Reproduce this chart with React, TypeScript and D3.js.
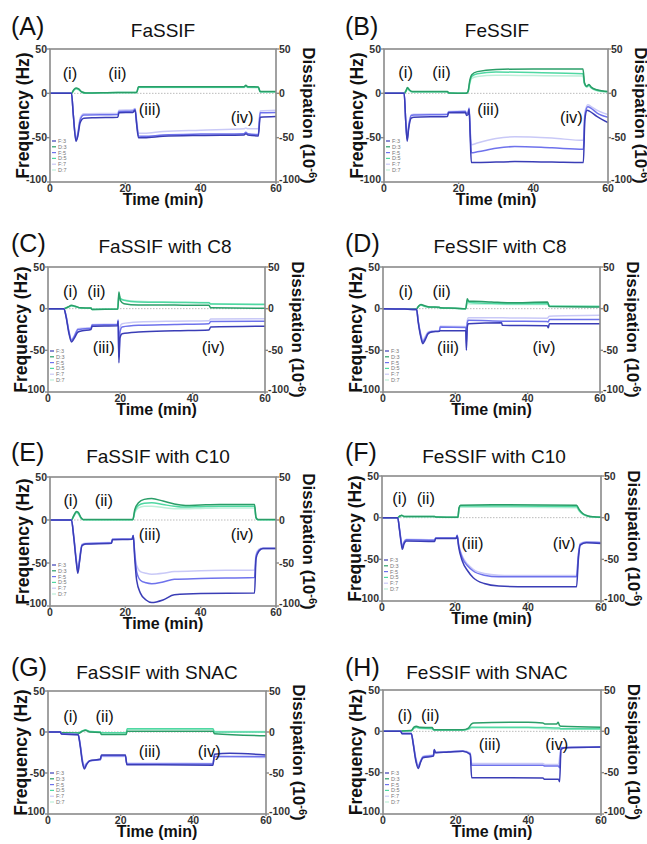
import React from 'react';
import * as d3 from 'd3';

type P = [number, number];

const X_TICKS = [0, 20, 40, 60];
const Y_TICKS = [50, 0, -50, -100];
const LEGEND_LABELS = ['F:3', 'D:3', 'F:5', 'D:5', 'F:7', 'D:7'];
const ROMAN = ['(i)', '(ii)', '(iii)', '(iv)'];
const PANEL_TAGS = ['(A)', '(B)', '(C)', '(D)', '(E)', '(F)', '(G)', '(H)'];
const PANEL_TITLES = ['FaSSIF', 'FeSSIF', 'FaSSIF with C8', 'FeSSIF with C8', 'FaSSIF with C10', 'FeSSIF with C10', 'FaSSIF with SNAC', 'FeSSIF with SNAC'];

// ---------- (A) FaSSIF ----------
const A_F3: P[] = [[0,0],[5.7,0],[6.2,-25],[6.9,-54],[7.4,-48],[8,-33],[9,-28],[12,-27.5],[18,-27],[18.3,-22],[22,-21.5],[22.6,-19],[23,-35],[23.5,-50],[25,-50],[30,-48.5],[40,-47.5],[51.5,-47],[52,-45.5],[52.5,-47],[55.3,-48],[55.8,-27],[60,-26]];
const A_F5: P[] = [[0,0],[5.7,0],[6.2,-25],[6.9,-53],[7.4,-46],[8,-30],[9,-24.5],[18,-24],[18.3,-20.5],[22,-20],[22.6,-18],[23,-33],[23.5,-48],[25,-48.5],[30,-47],[40,-46],[51.5,-45.5],[52,-44],[52.5,-45.5],[55.3,-46.5],[55.8,-22],[60,-21.5]];
const A_F7: P[] = [[0,0],[5.7,0],[6.2,-24],[6.9,-51],[7.4,-44],[8,-28],[9,-23],[18,-22.5],[18.3,-19],[22,-18.5],[22.6,-17],[23,-30],[23.5,-45],[25,-45],[30,-43],[40,-41.5],[51.5,-40],[52,-39],[52.5,-40],[55.3,-40],[55.8,-20],[60,-19]];
const A_D3: P[] = [[0,0],[5.7,0],[6.3,4],[6.9,6],[7.6,5],[8.5,1.5],[9.5,0.5],[18,1],[23,1],[23.5,7.5],[40,7.5],[51.5,7.5],[52,9],[52.5,7.5],[55.3,7.2],[55.8,2],[60,2]];
const A_D5: P[] = [[0,0],[5.7,0],[6.3,3.5],[6.9,5.5],[7.6,4.5],[8.5,1.2],[9.5,0.3],[18,0.8],[23,0.8],[23.5,7],[40,7],[51.5,7],[52,8.5],[52.5,7],[55.3,6.8],[55.8,1.8],[60,1.8]];
const A_D7: P[] = [[0,0],[5.7,0],[6.3,3],[6.9,5],[7.6,4],[8.5,1],[9.5,0.2],[18,0.6],[23,0.6],[23.5,6.5],[40,6.5],[51.5,6.5],[52,8],[52.5,6.5],[55.3,6.3],[55.8,1.5],[60,1.5]];
const A_NOTES: P[] = [[5.3,22.6],[17.9,22.6],[26.5,-17.7],[51,-27]];

// ---------- (B) FeSSIF ----------
const B_F3: P[] = [[0,0],[5.4,0],[5.8,-30],[6.2,-54],[6.6,-40],[7.3,-28],[8,-27],[17,-26],[17.3,-22],[21.8,-21.5],[22.1,-25],[22.5,-24],[22.8,-18],[23.1,-50],[23.4,-78],[25,-78],[35,-77],[45,-77.5],[53.4,-78],[53.8,-30],[54.4,-19],[55,-20],[57,-26],[60,-33]];
const B_F5: P[] = [[0,0],[5.4,0],[5.8,-30],[6.2,-52],[6.6,-38],[7.3,-25],[8,-24.5],[17,-24],[17.3,-21],[21.8,-20.5],[22.1,-23],[22.5,-22],[22.8,-17],[23.1,-45],[23.4,-67],[25,-66],[30,-62],[35,-60],[45,-61.5],[53.4,-63],[53.8,-25],[54.6,-15],[55.5,-17],[57,-22],[60,-27]];
const B_F7: P[] = [[0,0],[5.4,0],[5.8,-28],[6.2,-50],[6.6,-36],[7.3,-24],[8,-23.5],[17,-23],[17.3,-20.5],[21.8,-20],[22.1,-22],[22.5,-21],[22.8,-16],[23.1,-40],[23.4,-58],[25,-56],[30,-51],[35,-49],[45,-50.5],[53.4,-53],[53.8,-22],[54.6,-13],[55.5,-15],[57,-19],[60,-24]];
const B_D3: P[] = [[0,0],[5.4,0],[5.9,3],[6.3,6.5],[6.8,4],[7.5,2],[17,2],[17.3,0.5],[22,0],[22.5,2],[23,15],[23.5,21],[25,24.5],[30,27],[40,27.5],[53.3,27.5],[53.7,12],[54.3,8],[54.9,10],[55.5,7],[57,4],[60,2]];
const B_D5: P[] = [[0,0],[5.4,0],[5.9,2.5],[6.3,6],[6.8,3.5],[7.5,1.8],[17,1.8],[17.3,0.4],[22,0],[22.5,1.8],[23,13],[23.5,19],[25,22],[30,24],[40,23.5],[53.3,22],[53.7,11],[54.3,7.5],[54.9,9],[55.5,6.5],[57,3.5],[60,1.8]];
const B_D7: P[] = [[0,0],[5.4,0],[5.9,2],[6.3,5.5],[6.8,3],[7.5,1.5],[17,1.5],[17.3,0.3],[22,0],[22.5,1.5],[23,11],[23.5,17],[25,19],[30,20.5],[40,20],[53.3,19.5],[53.7,10],[54.3,7],[54.9,8],[55.5,6],[57,3],[60,1.5]];
const B_NOTES: P[] = [[5.8,23.6],[15.4,23.6],[27.9,-17.8],[50.2,-26.7]];

// ---------- (C) FaSSIF with C8 ----------
const C_F3: P[] = [[0,0],[4.4,0],[5,-10],[5.8,-30],[6.5,-40],[7.2,-36],[8.3,-28],[9.5,-26.5],[11.9,-25],[12.2,-21],[19.2,-20.5],[19.4,-15],[19.6,-65],[19.9,-35],[20.5,-30],[25,-28],[35,-26.5],[44.5,-25.5],[45,-22],[60,-21]];
const C_F5: P[] = [[0,0],[4.4,0],[5,-9],[5.8,-28],[6.5,-38],[7.2,-34],[8.3,-25],[9.5,-24.5],[11.9,-23.5],[12.2,-19.5],[19.2,-19],[19.4,-14],[19.6,-58],[19.9,-28],[20.5,-22],[25,-20],[35,-19],[44.5,-18],[45,-15.5],[60,-15]];
const C_F7: P[] = [[0,0],[4.4,0],[5,-8],[5.8,-27],[6.5,-37],[7.2,-33],[8.3,-24],[9.5,-23.5],[11.9,-23],[12.2,-19],[19.2,-18.5],[19.4,-13],[19.6,-50],[19.9,-22],[20.5,-18],[25,-16],[35,-15],[44.5,-14.5],[45,-12.5],[60,-12]];
const C_D3: P[] = [[0,0],[4.4,0],[5.5,2],[6.5,4],[7.5,3],[9,1],[11.9,0.7],[12.2,-1],[19.3,-0.5],[19.6,20],[20,10],[21,6],[25,4.5],[35,4.3],[44.5,4],[45,1],[60,0.5]];
const C_D5: P[] = [[0,0],[4.4,0],[5.5,1.8],[6.5,3.5],[7.5,2.7],[9,0.8],[11.9,0.5],[12.2,-1],[19.3,-0.5],[19.6,17],[20,12],[21,10],[25,8],[35,7.5],[44.5,7],[45,5.5],[60,5]];
const C_D7: P[] = [[0,0],[4.4,0],[5.5,1.5],[6.5,3],[7.5,2.4],[9,0.6],[11.9,0.4],[12.2,-0.8],[19.3,-0.4],[19.6,15],[20,12],[21,10.5],[25,9],[35,8],[44.5,7.5],[45,6],[60,5.5]];
const C_NOTES: P[] = [[6.2,21],[13.4,21],[15.4,-46],[45.7,-46]];

// ---------- (D) FeSSIF with C8 ----------
const D_F3: P[] = [[0,0],[6,-0.5],[9.3,-1],[9.7,-15],[10.5,-35],[11,-42],[11.6,-38],[12.5,-30],[13.5,-28],[15.6,-27],[15.8,-26.5],[22.9,-26.5],[23.05,-50],[23.3,-22],[23.6,-18],[32.8,-17],[33,-20],[45.4,-20.5],[45.7,-23],[46,-18],[60,-18]];
const D_F5: P[] = [[0,0],[6,-0.5],[9.3,-1],[9.7,-14],[10.5,-33],[11,-40],[11.6,-36],[12.5,-29],[13.5,-27.5],[15.6,-27],[15.8,-22],[22.9,-22.5],[23.05,-42],[23.3,-17],[23.6,-14],[33,-15],[45.4,-15.5],[45.7,-16],[46,-13],[60,-13]];
const D_F7: P[] = [[0,0],[6,-0.5],[9.3,-1],[9.7,-13],[10.5,-31],[11,-38],[11.6,-34],[12.5,-28],[13.5,-27],[15.6,-26.5],[15.8,-21],[22.9,-21.5],[23.05,-36],[23.3,-14],[23.6,-11],[33,-11],[45.4,-11.5],[46,-9],[60,-8]];
const D_D3: P[] = [[0,0],[9.3,0],[9.8,3],[10.5,5],[11.5,3.5],[13,2],[15.6,1.8],[15.8,1],[20,0.5],[22.9,0],[23.3,12],[23.7,9],[25,9],[30,8],[35,7],[45.5,8],[46,2.5],[60,2]];
const D_D5: P[] = [[0,0],[9.3,0],[9.8,2.5],[10.5,4.5],[11.5,3],[13,1.8],[15.6,1.5],[15.8,0.8],[20,0.4],[22.9,0],[23.3,10],[23.7,8],[25,7],[30,6.5],[35,6],[45.5,6],[46,3],[60,2.5]];
const D_D7: P[] = [[0,0],[9.3,0],[9.8,2],[10.5,4],[11.5,2.5],[13,1.5],[15.6,1.3],[15.8,0.6],[20,0.3],[22.9,0],[23.3,8],[23.7,6],[25,5.5],[35,5],[45.5,5],[46,3.5],[60,3]];
const D_NOTES: P[] = [[6.3,21],[16.2,21],[18,-46],[44.5,-46]];

// ---------- (E) FaSSIF with C10 ----------
const E_F3: P[] = [[0,0],[5.7,0],[6.3,-20],[7,-50],[7.4,-62],[7.8,-50],[8.5,-30],[9.5,-28],[16.3,-27],[16.6,-23],[21.8,-22.5],[22.1,-18],[22.5,-45],[23,-70],[24,-85],[25.5,-93],[27,-96],[30,-93],[33,-87],[40,-85.5],[54.3,-85],[54.7,-45],[55.5,-36],[56.5,-33],[60,-33]];
const E_F5: P[] = [[0,0],[5.7,0],[6.3,-19],[7,-48],[7.4,-60],[7.8,-48],[8.5,-29],[9.5,-27.5],[16.3,-26.5],[16.6,-22.5],[21.8,-22],[22.1,-18],[22.5,-40],[23,-60],[24,-70],[25.5,-73],[27,-74],[30,-72],[33,-69],[40,-68],[54.3,-67],[54.7,-42],[55.5,-35],[56.5,-33],[60,-33]];
const E_F7: P[] = [[0,0],[5.7,0],[6.3,-18],[7,-46],[7.4,-58],[7.8,-46],[8.5,-28],[9.5,-27],[16.3,-26],[16.6,-22],[21.8,-21.5],[22.1,-18],[22.5,-38],[23,-53],[24,-60],[25.5,-62],[27,-63],[30,-62],[33,-60],[40,-59],[54.3,-58],[54.7,-40],[55.5,-34],[56.5,-32.5],[60,-32.5]];
const E_D3: P[] = [[0,0],[5.7,0],[6.3,5],[7,10],[7.5,9],[8.2,3],[8.8,0.5],[22,0.5],[22.5,12],[23.5,20],[25,24],[27,25],[30,22],[33,18.5],[36,17],[40,17.5],[45,18],[54.3,18],[54.7,3],[55.2,0.5],[60,0.5]];
const E_D5: P[] = [[0,0],[5.7,0],[6.3,4.5],[7,9],[7.5,8],[8.2,2.5],[8.8,0.4],[22,0.4],[22.5,10],[23.5,17],[25,19.5],[27,20],[30,18],[33,16],[36,15],[40,15.5],[45,16],[54.3,16],[54.7,2.5],[55.2,0.4],[60,0.4]];
const E_D7: P[] = [[0,0],[5.7,0],[6.3,4],[7,8],[7.5,7],[8.2,2],[8.8,0.3],[22,0.3],[22.5,8],[23.5,14],[25,16],[27,16],[30,14.5],[33,13],[36,13],[40,13.5],[45,14],[54.3,14],[54.7,2],[55.2,0.3],[60,0.3]];
const E_NOTES: P[] = [[5.5,23],[14.3,23],[26.5,-17],[51,-17]];

// ---------- (F) FeSSIF with C10 ----------
const F_F3: P[] = [[0,0],[4.3,0],[4.8,-15],[5.3,-32],[5.6,-38],[6,-32],[6.7,-28],[14.4,-28.5],[14.7,-25],[20.3,-25],[20.6,-22],[21,-35],[22,-52],[23.5,-64],[25,-72],[28,-79],[32,-82],[40,-83],[53.3,-83],[53.8,-50],[54.3,-33],[56,-30],[60,-31]];
const F_F5: P[] = [[0,0],[4.3,0],[4.8,-14],[5.3,-30],[5.6,-36],[6,-30],[6.7,-26.5],[14.4,-27],[14.7,-24.5],[20.3,-24.5],[20.6,-21],[21,-33],[22,-48],[23.5,-58],[25,-64],[28,-69],[32,-71],[40,-71],[53.3,-71],[53.8,-45],[54.3,-32],[56,-29.5],[60,-30]];
const F_F7: P[] = [[0,0],[4.3,0],[4.8,-13],[5.3,-29],[5.6,-35],[6,-29],[6.7,-26],[14.4,-26.5],[14.7,-24],[20.3,-24],[20.6,-21],[21,-32],[22,-46],[23.5,-56],[25,-62],[28,-67],[32,-69],[40,-69.5],[53.3,-69],[53.8,-44],[54.3,-31],[56,-29],[60,-29.5]];
const F_D3: P[] = [[0,0],[4.3,0],[4.9,2],[5.4,3],[6,1.5],[14.4,1.5],[14.7,0.8],[20.8,0.5],[21.1,12],[21.5,15],[30,15.5],[53.3,15],[54,10],[55,5],[56.5,2],[58,1],[60,0.5]];
const F_D5: P[] = [[0,0],[4.3,0],[4.9,1.8],[5.4,2.7],[6,1.3],[14.4,1.3],[14.7,0.7],[20.8,0.4],[21.1,11],[21.5,14],[30,14],[53.3,13.5],[54,9],[55,4.5],[56.5,1.8],[58,0.9],[60,0.5]];
const F_D7: P[] = [[0,0],[4.3,0],[4.9,1.5],[5.4,2.4],[6,1.1],[14.4,1.1],[14.7,0.6],[20.8,0.3],[21.1,10],[21.5,12.5],[30,12.5],[53.3,12],[54,8],[55,4],[56.5,1.5],[58,0.8],[60,0.4]];
const F_NOTES: P[] = [[4.85,23],[12,23],[24.8,-31],[49.9,-31]];

// ---------- (G) FaSSIF with SNAC ----------
const G_F3: P[] = [[0,0],[3.4,0],[3.7,-2.5],[8.3,-3.5],[8.8,-15],[9.5,-38],[10,-45],[10.6,-40],[11.5,-35],[14.4,-33],[14.7,-28],[21.3,-28],[21.7,-40],[30,-40],[45.4,-40.5],[45.8,-27],[50,-26],[60,-28]];
const G_F5: P[] = [[0,0],[3.4,0],[3.7,-2],[8.3,-3],[8.8,-14],[9.5,-36],[10,-43],[10.6,-39],[11.5,-35],[14.4,-34],[14.7,-29],[21.3,-29],[21.7,-39],[30,-39],[45.4,-39],[45.8,-30],[60,-30]];
const G_F7: P[] = [[0,0],[3.4,0],[3.7,-2],[8.3,-3],[8.8,-13],[9.5,-34],[10,-41],[10.6,-38],[11.5,-35],[14.4,-34],[14.7,-30],[21.3,-30],[21.7,-38],[30,-38],[45.4,-38.5],[45.8,-30],[60,-31]];
const G_D3: P[] = [[0,0],[3.4,0],[3.7,-1],[8.5,-1.5],[9.5,1],[10.3,2],[11.5,0],[14.4,-0.5],[14.7,-3],[21.5,-3],[21.8,1],[45.4,1],[45.8,-2],[60,-4.5]];
const G_D5: P[] = [[0,0],[3.4,0],[3.7,-0.8],[8.5,-1],[9.5,1.5],[10.3,2.5],[11.5,0.5],[14.4,0],[14.7,-1],[21.5,-1],[21.8,4],[45.4,4],[45.8,0],[60,0]];
const G_D7: P[] = [[0,0],[3.4,0],[3.7,-0.6],[8.5,-0.8],[9.5,1.5],[10.3,2.5],[11.5,0.5],[14.4,0],[14.7,-0.8],[21.5,-0.8],[21.8,3.5],[45.4,3.5],[45.8,0.5],[60,0.5]];
const G_NOTES: P[] = [[6.2,19],[15.6,19],[28,-24],[44.4,-24]];

// ---------- (H) FeSSIF with SNAC ----------
const H_F3: P[] = [[0,0],[4.9,0],[5.2,-3],[7.8,-3],[8.3,-15],[9,-35],[9.7,-45],[10.3,-38],[11,-32],[13.9,-30],[14.1,-22],[14.5,-26],[18,-25],[22,-24],[24,-28],[24.4,-56],[35,-56],[44,-56.5],[44.5,-58],[48.3,-58],[48.6,-61],[49,-22],[50,-20],[60,-19]];
const H_F5: P[] = [[0,0],[4.9,0],[5.2,-2.5],[7.8,-2.5],[8.3,-14],[9,-33],[9.7,-43],[10.3,-37],[11,-31],[13.9,-29],[14.1,-23],[14.5,-25.5],[18,-25],[22,-24],[24,-27],[24.4,-41],[35,-41],[44,-41],[44.5,-42],[48.3,-42],[48.6,-44],[49,-20],[60,-19]];
const H_F7: P[] = [[0,0],[4.9,0],[5.2,-2],[7.8,-2],[8.3,-13],[9,-31],[9.7,-41],[10.3,-36],[11,-30],[13.9,-28.5],[14.1,-23],[14.5,-25],[18,-24.5],[22,-23.5],[24,-26],[24.4,-39],[35,-39],[44,-39],[44.5,-40],[48.3,-40],[49,-20],[60,-19]];
const H_D3: P[] = [[0,0],[4.9,0],[5.2,0.5],[7.8,1],[8.5,5],[9.2,6],[10,5],[13.5,4.5],[14,2],[22,2],[23.5,4],[24.4,9],[25,10],[40,11],[44,10],[44.5,9],[47.8,9],[48.2,11],[48.6,7],[49,6],[60,5]];
const H_D5: P[] = [[0,0],[4.9,0],[5.2,0.4],[7.8,0.8],[8.5,4],[9.2,5],[10,4],[13.5,3.5],[14,1.5],[22,1.5],[23.5,3],[24.4,5],[25,5],[40,5],[44.5,4.5],[48.5,4],[49,3],[60,3]];
const H_D7: P[] = [[0,0],[4.9,0],[5.2,0.3],[7.8,0.6],[8.5,3.5],[9.2,4.5],[10,3.5],[13.5,3],[14,1.2],[22,1.2],[23.5,2.5],[24.4,4],[40,4],[49,2.5],[60,2.5]];
const H_NOTES: P[] = [[6,19],[13,19],[29.4,-16],[47.8,-16]];

// series per panel, in legend order F3, D3, F5, D5, F7, D7
const SERIES: P[][][] = [
  [A_F3, A_D3, A_F5, A_D5, A_F7, A_D7],
  [B_F3, B_D3, B_F5, B_D5, B_F7, B_D7],
  [C_F3, C_D3, C_F5, C_D5, C_F7, C_D7],
  [D_F3, D_D3, D_F5, D_D5, D_F7, D_D7],
  [E_F3, E_D3, E_F5, E_D5, E_F7, E_D7],
  [F_F3, F_D3, F_F5, F_D5, F_F7, F_D7],
  [G_F3, G_D3, G_F5, G_D5, G_F7, G_D7],
  [H_F3, H_D3, H_F5, H_D5, H_F7, H_D7],
];
const NOTES: P[][] = [A_NOTES, B_NOTES, C_NOTES, D_NOTES, E_NOTES, F_NOTES, G_NOTES, H_NOTES];

// ---------- layout / style ----------
const COLORS = ['#3a3db6', '#2a9e68', '#6e72ec', '#4fd8a2', '#c9c9f7', '#bdefd9'];
const DRAW_ORDER = [5, 3, 1, 4, 2, 0];
const FONT = '"Liberation Sans", Arial, Helvetica, sans-serif';

const LAYOUT = [
  { left: 50, top: 49, w: 226, h: 133, titleX: 163, titleY: 37, tagX: 11, tagY: 35 },
  { left: 384, top: 49, w: 224, h: 133, titleX: 497, titleY: 37, tagX: 345, tagY: 35 },
  { left: 48, top: 267, w: 217, h: 125, titleX: 165, titleY: 253, tagX: 11, tagY: 252 },
  { left: 383, top: 267, w: 217, h: 125, titleX: 500, titleY: 253, tagX: 345, tagY: 252 },
  { left: 50, top: 477, w: 226, h: 129, titleX: 158, titleY: 463, tagX: 11, tagY: 461 },
  { left: 382, top: 476, w: 219, h: 125, titleX: 494, titleY: 463, tagX: 345, tagY: 461 },
  { left: 48, top: 691, w: 218, h: 123, titleX: 157, titleY: 679, tagX: 11, tagY: 676 },
  { left: 383, top: 690, w: 218, h: 124, titleX: 487, titleY: 679, tagX: 345, tagY: 676 },
];

function Panel({ idx }: { idx: number }) {
  const L = LAYOUT[idx];
  const x = d3.scaleLinear().domain([0, 60]).range([L.left, L.left + L.w]);
  const y = d3.scaleLinear().domain([-100, 50]).range([L.top + L.h, L.top]);
  const line = d3.line<P>().x(d => x(d[0])).y(d => y(d[1])).curve(d3.curveMonotoneX);
  const right = L.left + L.w;
  const bottom = L.top + L.h;
  const cy = (L.top + bottom) / 2;
  const cx = (L.left + right) / 2;
  const clipId = `clip-${idx}`;
  return (
    <g>
      <defs>
        <clipPath id={clipId}>
          <rect x={L.left} y={L.top} width={L.w} height={L.h} />
        </clipPath>
      </defs>
      <text x={L.tagX} y={L.tagY} fontSize={25} fontFamily={FONT} fill="#111">{PANEL_TAGS[idx]}</text>
      <text x={L.titleX} y={L.titleY} fontSize={19} fontFamily={FONT} fill="#111" textAnchor="middle">{PANEL_TITLES[idx]}</text>
      {/* zero line */}
      <line x1={L.left} x2={right} y1={y(0)} y2={y(0)} stroke="#bbb" strokeWidth={1} strokeDasharray="1.5,1.5" />
      <g clipPath={`url(#${clipId})`}>
        {DRAW_ORDER.map(k => (
          <path key={k} d={line(SERIES[idx][k]) || ''} fill="none" stroke={COLORS[k]} strokeWidth={1.5} strokeLinejoin="round" />
        ))}
      </g>
      {/* frame */}
      <rect x={L.left} y={L.top} width={L.w} height={L.h} fill="none" stroke="#8a8a8a" strokeWidth={1.6} />
      {/* ticks */}
      {Y_TICKS.map(t => {
        const off = t === -100 ? -3 : 0;
        return (
          <g key={'y' + t}>
            <line x1={L.left - 3} x2={L.left} y1={y(t)} y2={y(t)} stroke="#8a8a8a" strokeWidth={1.4} />
            <line x1={right} x2={right + 3} y1={y(t)} y2={y(t)} stroke="#8a8a8a" strokeWidth={1.4} />
            <text x={L.left - 3} y={y(t) + off} dy="0.35em" textAnchor="end" fontSize={10.5} fontWeight="bold" fontFamily={FONT} fill="#333">{t}</text>
            <text x={right + 3} y={y(t) + off} dy="0.35em" textAnchor="start" fontSize={10.5} fontWeight="bold" fontFamily={FONT} fill="#333">{t}</text>
          </g>
        );
      })}
      {X_TICKS.map(t => (
        <g key={'x' + t}>
          <line x1={x(t)} x2={x(t)} y1={bottom} y2={bottom + 2} stroke="#8a8a8a" strokeWidth={1.4} />
          <text x={x(t)} y={bottom + 9.5} textAnchor="middle" fontSize={10.5} fontWeight="bold" fontFamily={FONT} fill="#333">{t}</text>
        </g>
      ))}
      {/* axis titles */}
      <text transform={`translate(${L.left - 21},${cy}) rotate(-90)`} textAnchor="middle" fontSize={17.5} fontWeight="bold" fontFamily={FONT} fill="#111">Frequency (Hz)</text>
      <text transform={`translate(${right + 27},${cy}) rotate(90)`} textAnchor="middle" fontSize={17} fontWeight="bold" fontFamily={FONT} fill="#111">
        Dissipation (10<tspan dy="-6" fontSize={11}>-6</tspan><tspan dy="6">)</tspan>
      </text>
      <text x={cx} y={bottom + 23} textAnchor="middle" fontSize={16} fontWeight="bold" fontFamily={FONT} fill="#111">Time (min)</text>
      {/* roman numeral annotations */}
      {NOTES[idx].map((n, i) => (
        <text key={'n' + i} x={x(n[0])} y={y(n[1])} dy="0.35em" textAnchor="middle" fontSize={16.5} fontFamily={FONT} fill="#111">{ROMAN[i]}</text>
      ))}
      {/* legend */}
      {LEGEND_LABELS.map((lab, i) => {
        const ly = bottom - 41 + i * 5.8;
        return (
          <g key={lab}>
            <line x1={L.left + 2} x2={L.left + 6} y1={ly} y2={ly} stroke={COLORS[i]} strokeWidth={1.2} />
            <text x={L.left + 8} y={ly} dy="0.35em" fontSize={5.5} fontFamily={FONT} fill="#777">{lab}</text>
          </g>
        );
      })}
    </g>
  );
}

export default function App() {
  return (
    <svg width={647} height={844} viewBox="0 0 647 844" style={{ position: 'absolute', left: 0, top: 0, background: '#fff' }}>
      <rect x={0} y={0} width={647} height={844} fill="#fff" />
      {LAYOUT.map((_, i) => <Panel key={i} idx={i} />)}
    </svg>
  );
}
